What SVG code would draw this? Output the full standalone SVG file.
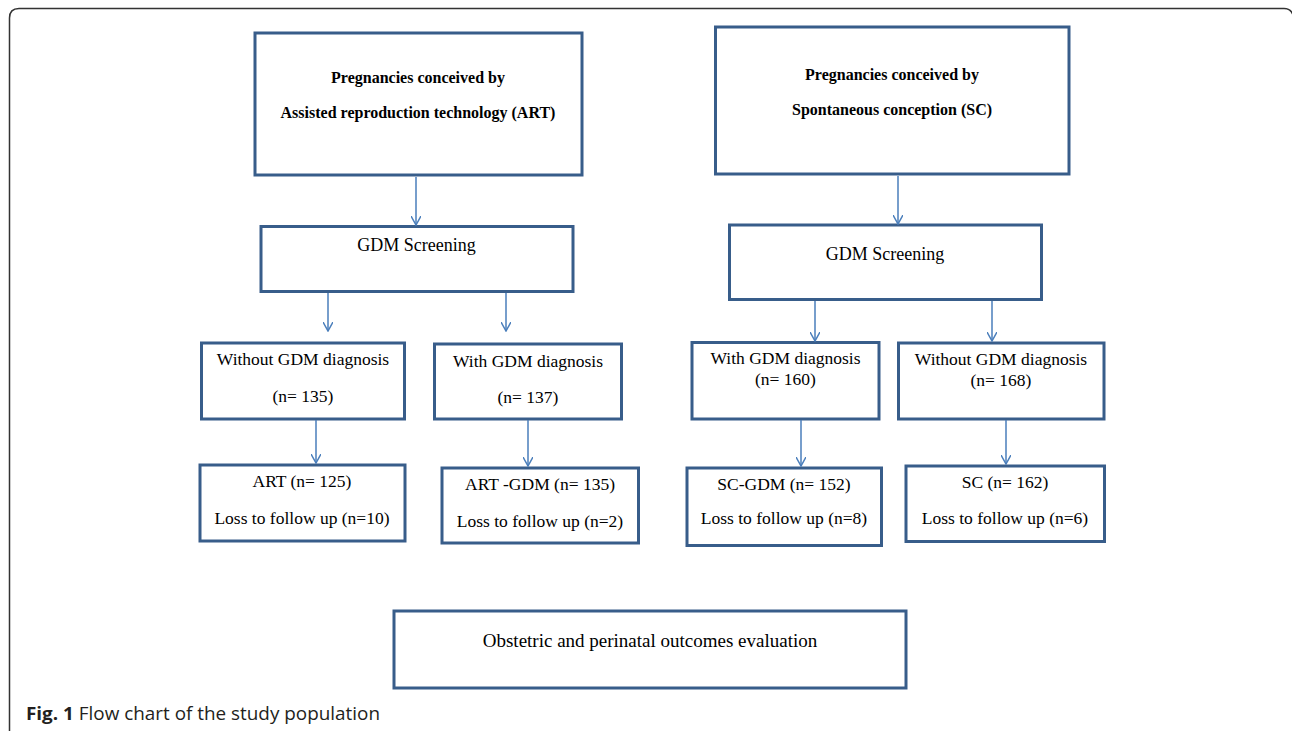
<svg xmlns="http://www.w3.org/2000/svg" width="1292" height="731" viewBox="0 0 1292 731">
<defs>
<style>
.box{fill:#fff;stroke:#385D8A;stroke-width:3}
.t{font-family:"Liberation Serif","Times New Roman",serif;font-size:17.5px;fill:#000;text-anchor:middle}
.tb{font-family:"Liberation Serif","Times New Roman",serif;font-size:16px;font-weight:bold;fill:#000;text-anchor:middle}
.tg{font-family:"Liberation Serif","Times New Roman",serif;font-size:18px;fill:#000;text-anchor:middle}
.conn line{stroke:#4A7EBB;stroke-width:1.5;marker-end:url(#ah)}
.cap{font-family:"Open Sans","Liberation Sans",Arial,sans-serif;font-size:18px;fill:#231f20}
</style>
<marker id="ah" viewBox="0 0 10 10" refX="9" refY="5" markerWidth="10" markerHeight="10" markerUnits="userSpaceOnUse" orient="auto">
<path d="M0,0 L9,5 L0,10" fill="none" stroke="#4A7EBB" stroke-width="1.5"/>
</marker>
</defs>
<rect width="1292" height="731" fill="#fff"/>
<path d="M9.5,740 V18 Q9.5,8.5 19,8.5 H1284 Q1291,8.5 1293,15" fill="none" stroke="#333" stroke-width="1.5"/>

<g id="art-title">
<rect class="box" x="255" y="33" width="327" height="142"/>
<text class="tb" x="418" y="83">Pregnancies conceived by</text>
<text class="tb" x="418" y="118">Assisted reproduction technology (ART)</text>
</g>
<g id="sc-title">
<rect class="box" x="715.5" y="27" width="353.5" height="147"/>
<text class="tb" x="892" y="80">Pregnancies conceived by</text>
<text class="tb" x="892" y="115">Spontaneous conception (SC)</text>
</g>
<g id="gdm-art">
<rect class="box" x="261" y="226.5" width="312" height="65"/>
<text class="tg" x="416.5" y="251">GDM Screening</text>
</g>
<g id="gdm-sc">
<rect class="box" x="729.5" y="225" width="312" height="74.5"/>
<text class="tg" x="885" y="260">GDM Screening</text>
</g>
<g id="art-without">
<rect class="box" x="201.5" y="343" width="203" height="76"/>
<text class="t" x="303" y="365">Without GDM diagnosis</text>
<text class="t" x="303" y="402">(n= 135)</text>
</g>
<g id="art-with">
<rect class="box" x="434.5" y="344" width="187" height="75"/>
<text class="t" x="528" y="367">With GDM diagnosis</text>
<text class="t" x="528" y="403">(n= 137)</text>
</g>
<g id="art">
<rect class="box" x="200" y="465" width="205" height="76"/>
<text class="t" x="302" y="487">ART (n= 125)</text>
<text class="t" x="302" y="524">Loss to follow up (n=10)</text>
</g>
<g id="art-gdm">
<rect class="box" x="442" y="468" width="196.5" height="75"/>
<text class="t" x="540" y="490">ART -GDM (n= 135)</text>
<text class="t" x="540" y="527">Loss to follow up (n=2)</text>
</g>
<g id="sc-with">
<rect class="box" x="692" y="342.5" width="187" height="76.5"/>
<text class="t" x="785.5" y="364">With GDM diagnosis</text>
<text class="t" x="785.5" y="385">(n= 160)</text>
</g>
<g id="sc-without">
<rect class="box" x="898.5" y="343" width="205.5" height="76"/>
<text class="t" x="1001" y="365">Without GDM diagnosis</text>
<text class="t" x="1001" y="386">(n= 168)</text>
</g>
<g id="sc-gdm">
<rect class="box" x="687" y="468" width="194.5" height="77.5"/>
<text class="t" x="784" y="490">SC-GDM (n= 152)</text>
<text class="t" x="784" y="524">Loss to follow up (n=8)</text>
</g>
<g id="sc">
<rect class="box" x="906" y="466" width="198.5" height="75.5"/>
<text class="t" x="1005" y="488">SC (n= 162)</text>
<text class="t" x="1005" y="523.5">Loss to follow up (n=6)</text>
</g>
<g id="outcomes">
<rect class="box" x="394" y="611" width="512" height="77"/>
<text class="t" x="650" y="647" style="font-size:19px">Obstetric and perinatal outcomes evaluation</text>
</g>

<g id="connectors" class="conn">
<line x1="416" y1="177" x2="416" y2="225"/>
<line x1="898" y1="176" x2="898" y2="224"/>
<line x1="328" y1="293" x2="328" y2="331"/>
<line x1="506" y1="293" x2="506" y2="331"/>
<line x1="815" y1="301" x2="815" y2="341"/>
<line x1="992" y1="301" x2="992" y2="341"/>
<line x1="316" y1="420" x2="316" y2="463"/>
<line x1="528" y1="420" x2="528" y2="466"/>
<line x1="801" y1="420" x2="801" y2="466"/>
<line x1="1006" y1="420" x2="1006" y2="464"/>
</g>

<text class="cap" x="26" y="720" textLength="354" lengthAdjust="spacingAndGlyphs"><tspan font-weight="bold">Fig. 1</tspan> Flow chart of the study population</text>
</svg>
